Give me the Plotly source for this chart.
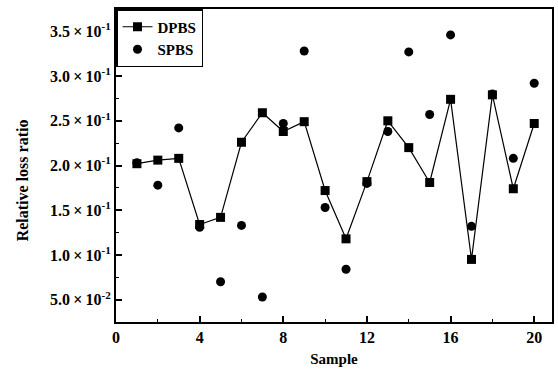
import plotly.graph_objects as go

samples = list(range(1, 21))
dpbs = [0.202, 0.206, 0.208, 0.134, 0.142, 0.226, 0.259, 0.238, 0.249, 0.172,
        0.118, 0.182, 0.250, 0.220, 0.181, 0.274, 0.095, 0.279, 0.174, 0.247]
spbs = [0.203, 0.178, 0.242, 0.131, 0.070, 0.133, 0.053, 0.247, 0.328, 0.153,
        0.084, 0.180, 0.238, 0.327, 0.257, 0.346, 0.132, 0.280, 0.208, 0.292]

y_tickvals = [0.05, 0.10, 0.15, 0.20, 0.25, 0.30, 0.35]
y_mant = ["5.0", "1.0", "1.5", "2.0", "2.5", "3.0", "3.5"]
y_exp = ["-2", "-1", "-1", "-1", "-1", "-1", "-1"]
y_ticktext = [f"{m}\u2009×\u200910<sup>{e}</sup>" for m, e in zip(y_mant, y_exp)]
x_tickvals = [0, 4, 8, 12, 16, 20]

FONT = "Liberation Serif"

fig = go.Figure()
fig.add_trace(go.Scatter(
    x=samples, y=dpbs, name="DPBS", mode="lines+markers",
    line=dict(color="black", width=1.2),
    marker=dict(symbol="square", size=9, color="black"),
))
fig.add_trace(go.Scatter(
    x=samples, y=spbs, name="SPBS", mode="markers",
    marker=dict(symbol="circle", size=9, color="black"),
))

axis_common = dict(
    showline=True, linecolor="black", linewidth=2, mirror=True,
    ticks="inside", ticklen=6, tickwidth=1.5, tickcolor="black",
    showgrid=False, zeroline=False,
    tickfont=dict(family=FONT, size=16, color="black", weight="bold"),
)

fig.update_xaxes(
    range=[0, 20.85], tickvals=x_tickvals,
    minor=dict(ticks="inside", ticklen=3, tickwidth=1, tickcolor="black", dtick=2, tick0=0),
    title=dict(text="Sample", font=dict(family=FONT, size=15, color="black", weight="bold"), standoff=8),
    **axis_common,
)
fig.update_yaxes(
    range=[0.025, 0.375], tickvals=y_tickvals, ticktext=y_ticktext,
    minor=dict(ticks="inside", ticklen=3, tickwidth=1, tickcolor="black", dtick=0.025, tick0=0.025),
    **axis_common,
)

fig.add_annotation(
    text="Relative loss ratio", textangle=-90,
    xref="paper", yref="paper", x=-0.2146, y=0.454,
    xanchor="center", yanchor="middle", showarrow=False,
    font=dict(family=FONT, size=16, color="black", weight="bold"),
)

fig.update_layout(
    width=558, height=369,
    margin=dict(l=116, r=4, t=9, b=45),
    paper_bgcolor="white", plot_bgcolor="white",
    legend=dict(
        x=0, y=1, xanchor="left", yanchor="top",
        bordercolor="black", borderwidth=1.5, bgcolor="white",
        font=dict(family=FONT, size=15, color="black", weight="bold"),
        tracegroupgap=0, itemwidth=30,
    ),
)

fig.write_html("out.html")
